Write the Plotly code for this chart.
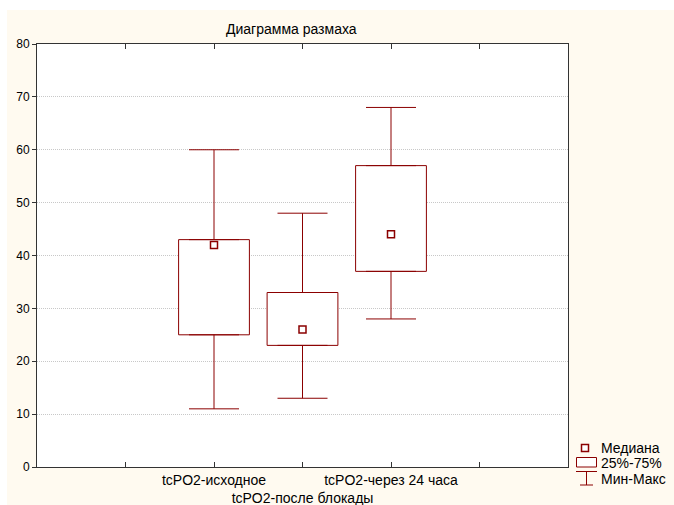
import plotly.graph_objects as go

# ---- data ----
categories = ["tcPO2-исходное", "tcPO2-после блокады", "tcPO2-через 24 часа"]
mins = [11, 13, 28]
q1 = [25, 23, 37]
medians = [42, 26, 44]
q3 = [43, 33, 57]
maxs = [60, 48, 68]
y_ticks = [0, 10, 20, 30, 40, 50, 60, 70, 80]

RED = "#8b0000"
CREAM = "#fffaf0"
FONT = "Liberation Sans, Arial, sans-serif"

W, H = 674, 505
L, R, T, B = 37, 568, 44, 467  # plot area in px


def px_x(px):
    return (px - L) / (R - L)


def px_y(py):
    return (B - py) / (B - T)


pos = list(range(len(categories)))

fig = go.Figure()

# boxes (25%-75%)
fig.add_trace(go.Bar(
    x=pos, y=[b - a for a, b in zip(q1, q3)], base=q1, width=0.8,
    marker=dict(color="white", line=dict(color=RED, width=1)),
    showlegend=False, hoverinfo="skip",
))

# upper whiskers
fig.add_trace(go.Scatter(
    x=pos, y=q3, mode="markers", marker=dict(size=1, opacity=0),
    error_y=dict(type="data", symmetric=False,
                 array=[m - b for b, m in zip(q3, maxs)],
                 arrayminus=[0] * len(pos), width=25, thickness=1, color=RED),
    showlegend=False, hoverinfo="skip",
))
# lower whiskers
fig.add_trace(go.Scatter(
    x=pos, y=q1, mode="markers", marker=dict(size=1, opacity=0),
    error_y=dict(type="data", symmetric=False,
                 array=[0] * len(pos),
                 arrayminus=[a - m for a, m in zip(q1, mins)],
                 width=25, thickness=1, color=RED),
    showlegend=False, hoverinfo="skip",
))
# medians
fig.add_trace(go.Scatter(
    x=pos, y=medians, mode="markers",
    marker=dict(symbol="square", size=7, color="white", line=dict(color=RED, width=1.5)),
    showlegend=False,
))

ticktext = [""] + [("<br>" + c if i % 2 == 1 else c) for i, c in enumerate(categories)] + [""]
fig.update_xaxes(
    range=[-2, 4], tickvals=[-1] + pos + [3], ticktext=ticktext, tickangle=0,
    automargin=False,
    ticks="inside", ticklen=5, tickcolor="#333", showline=True, linecolor="#333",
    linewidth=1, mirror="ticks", showgrid=False, zeroline=False,
    tickfont=dict(family=FONT, size=14, color="black"),
)
fig.update_yaxes(
    range=[0, 80], tickvals=y_ticks, automargin=False,
    ticks="outside", ticklen=4, tickcolor="#333", showline=True, linecolor="#333",
    linewidth=1, mirror=True, showgrid=True, gridcolor="#c8c8c8", griddash="1px,1px",
    gridwidth=1, zeroline=False,
    tickfont=dict(family=FONT, size=12, color="black"),
)

shapes = [
    # white strips at top/left outside the cream panel
    dict(type="rect", xref="paper", yref="paper", x0=px_x(0), x1=px_x(W), y0=px_y(10), y1=px_y(0),
         fillcolor="white", line=dict(width=0), layer="below"),
    dict(type="rect", xref="paper", yref="paper", x0=px_x(0), x1=px_x(7), y0=px_y(H), y1=px_y(0),
         fillcolor="white", line=dict(width=0), layer="below"),
    # legend symbols
    dict(type="rect", xref="paper", yref="paper", x0=px_x(581.5), x1=px_x(588.5), y0=px_y(451.5), y1=px_y(444.5),
         fillcolor="white", line=dict(color=RED, width=1.5)),
    dict(type="rect", xref="paper", yref="paper", x0=px_x(576.5), x1=px_x(596.5), y0=px_y(467), y1=px_y(457.5),
         fillcolor="white", line=dict(color=RED, width=1)),
    dict(type="line", xref="paper", yref="paper", x0=px_x(576), x1=px_x(597), y0=px_y(471.5), y1=px_y(471.5),
         line=dict(color=RED, width=1)),
    dict(type="line", xref="paper", yref="paper", x0=px_x(586.5), x1=px_x(586.5), y0=px_y(471.5), y1=px_y(485),
         line=dict(color=RED, width=1)),
    dict(type="line", xref="paper", yref="paper", x0=px_x(580), x1=px_x(593), y0=px_y(485), y1=px_y(485),
         line=dict(color=RED, width=1)),
]

annotations = [
    dict(text="Диаграмма размаха", xref="paper", yref="paper", x=px_x(291), y=px_y(29),
         xanchor="center", yanchor="middle", showarrow=False,
         font=dict(family=FONT, size=14, color="black")),
]
for label, yc in [("Медиана", 448), ("25%-75%", 462.5), ("Мин-Макс", 479)]:
    annotations.append(dict(text=label, xref="paper", yref="paper", x=px_x(599), y=px_y(yc),
                            xanchor="left", yanchor="middle", showarrow=False,
                            font=dict(family=FONT, size=14, color="black")))

fig.update_layout(
    width=W, height=H,
    margin=dict(l=L, r=W - R, t=T, b=H - B, autoexpand=False),
    paper_bgcolor=CREAM, plot_bgcolor="white",
    showlegend=False, barmode="overlay",
    shapes=shapes, annotations=annotations,
    font=dict(family=FONT, size=12, color="black"),
)

fig.write_html("out.html",
               config={"displayModeBar": False},
               post_script="document.body.style.margin='0px';document.body.style.overflow='hidden';")
